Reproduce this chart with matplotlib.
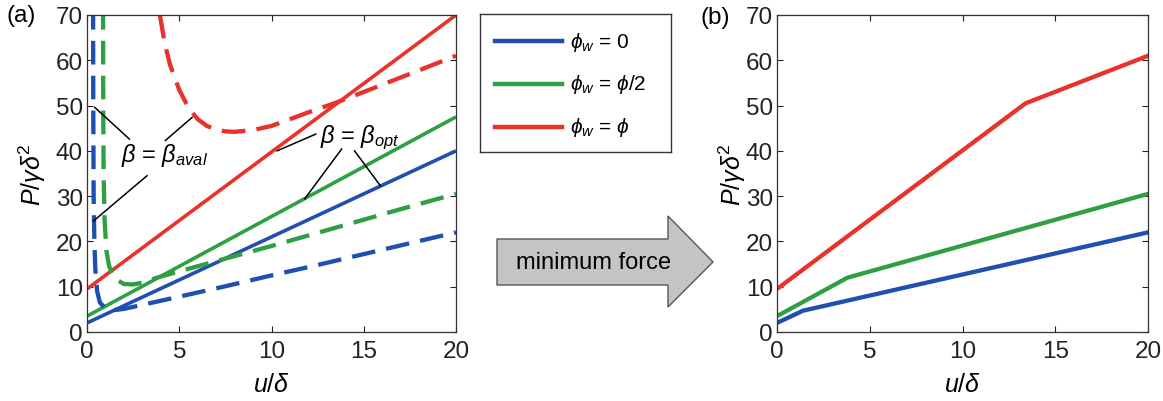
import matplotlib
matplotlib.use("Agg")
import matplotlib.pyplot as plt
from matplotlib.patches import Polygon

plt.rcParams['font.family'] = ['Liberation Sans', 'DejaVu Sans']
plt.rcParams['mathtext.fontset'] = 'custom'
plt.rcParams['mathtext.rm'] = 'Liberation Sans'
plt.rcParams['mathtext.it'] = 'Liberation Sans:italic'
plt.rcParams['mathtext.bf'] = 'Liberation Sans:bold'
plt.rcParams['mathtext.fallback'] = 'stixsans'

# ---------------- data ----------------
series_names = [r'$\phi_w$ = 0', r'$\phi_w$ = $\phi$/2', r'$\phi_w$ = $\phi$']
colors = ['#1f4fb0', '#2ea043', '#e8322a']

# (a) beta = beta_opt (solid)
opt_u = [0, 20]
opt_blue = [2.0, 40.0]
opt_green = [3.5, 47.5]
opt_red = [9.5, 70.0]

# (a) beta = beta_aval (dashed)
aval_blue_u = [0.33, 0.34, 0.36, 0.40, 0.45, 0.55, 0.70, 1.0, 1.4, 2.0, 3.0, 5.0, 7.5, 10.0, 12.5, 15.0, 17.5, 20.0]
aval_blue_p = [72, 50, 30, 20, 14, 9, 6.5, 5.2, 4.8, 5.1, 6.0, 7.8, 10.1, 12.5, 14.8, 17.2, 19.6, 22.0]
aval_green_u = [0.87, 0.88, 0.90, 0.95, 1.05, 1.2, 1.5, 2.0, 2.5, 3.0, 3.8, 5.0, 7.5, 10.0, 12.5, 15.0, 17.5, 20.0]
aval_green_p = [72, 50, 35, 25, 18, 14.5, 11.8, 10.6, 10.5, 10.9, 12.0, 13.4, 16.2, 19.0, 21.9, 24.8, 27.7, 30.5]
aval_red_u = [3.95, 4.2, 4.5, 5.0, 5.5, 6.0, 6.5, 7.0, 7.5, 8.0, 9.0, 10.0, 11.0, 12.0, 13.4, 15.0, 17.5, 20.0]
aval_red_p = [70, 64, 59, 53.5, 49.5, 47, 45.5, 44.7, 44.3, 44.2, 44.6, 45.5, 47.0, 48.5, 50.5, 53.0, 57.0, 61.0]

# (b) minimum force
min_blue_u = [0, 1.4, 20]
min_blue_p = [2.0, 4.7, 22.0]
min_green_u = [0, 3.8, 20]
min_green_p = [3.5, 12.0, 30.5]
min_red_u = [0, 13.4, 20]
min_red_p = [9.5, 50.5, 61.0]

xticks = [0, 5, 10, 15, 20]
yticks = [0, 10, 20, 30, 40, 50, 60, 70]

# ---------------- figure ----------------
W, H = 1163, 402
fig = plt.figure(figsize=(W / 100, H / 100), dpi=100)

def px(x0, y0, x1, y1):
    return [x0 / W, 1 - y1 / H, (x1 - x0) / W, (y1 - y0) / H]

axA = fig.add_axes(px(87, 16, 456, 333))
axB = fig.add_axes(px(777, 16, 1148, 333))

FS = 17.5
LW = 2.6
dash = (0, (5.5, 2.6))

def style(ax, ylab_x):
    ax.set_xlim(0, 20)
    ax.set_ylim(0, 70)
    ax.set_xticks(xticks)
    ax.set_yticks(yticks)
    ax.tick_params(direction='in', length=4, width=0.8, top=True, right=True,
                   labelsize=FS, colors='#222222')
    ax.tick_params(axis='x', pad=6)
    ax.tick_params(axis='y', pad=3)
    for s in ax.spines.values():
        s.set_linewidth(0.9)
        s.set_color('#333333')
    ax.set_xlabel(r'$u/\delta$', fontsize=18)
    ax.set_ylabel(r'$P/\gamma\delta^2$', fontsize=18)
    ax.xaxis.set_label_coords(0.5, -52 / 317, transform=ax.transAxes)
    ax.yaxis.set_label_coords(ylab_x, 0.5, transform=ax.transAxes)
    ax.xaxis.label.set_va('center')
    ax.yaxis.label.set_va('center')

# panel (a)
for p, c in zip([opt_blue, opt_green, opt_red], colors):
    axA.plot(opt_u, p, color=c, lw=LW, solid_capstyle='butt')
for u, p, c in zip([aval_blue_u, aval_green_u, aval_red_u],
                   [aval_blue_p, aval_green_p, aval_red_p], colors):
    axA.plot(u, p, color=c, lw=LW + 0.5, linestyle=dash, clip_on=True)
style(axA, -55 / 369)

# annotations beta = beta_aval
axA.text(4.2, 39.3, r'$\beta$ = $\beta_{aval}$', fontsize=17, ha='center', va='center')
for (x0, y0, x1, y1) in [(0.42, 49.6, 2.3, 42.6), (4.25, 42.3, 5.7, 47.4), (3.25, 34.5, 0.35, 24.5)]:
    axA.plot([x0, x1], [y0, y1], color='black', lw=1.1)

# annotations beta = beta_opt
axA.text(14.8, 43.0, r'$\beta$ = $\beta_{opt}$', fontsize=17, ha='center', va='center')
for (x0, y0, x1, y1) in [(12.4, 43.7, 10.3, 40.0), (13.8, 40.4, 11.8, 29.4), (14.5, 40.0, 15.9, 32.3)]:
    axA.plot([x0, x1], [y0, y1], color='black', lw=1.1)

# panel (b)
for u, p, c in zip([min_blue_u, min_green_u, min_red_u],
                   [min_blue_p, min_green_p, min_red_p], colors):
    axB.plot(u, p, color=c, lw=LW + 0.5, solid_joinstyle='round')
style(axB, -45 / 371)

# panel labels
fig.text(6 / W, 1 - 16 / H, '(a)', fontsize=FS, ha='left', va='center')
fig.text(700 / W, 1 - 18 / H, '(b)', fontsize=FS, ha='left', va='center')

# legend box (drawn manually)
legax = fig.add_axes(px(480, 15, 671, 153))
legax.set_xlim(0, 1)
legax.set_ylim(0, 1)
legax.set_xticks([])
legax.set_yticks([])
for s in legax.spines.values():
    s.set_linewidth(1.0)
    s.set_color('#333333')
rows = [1 - (42 - 15) / 138, 1 - (85 - 15) / 138, 1 - (128 - 15) / 138]
for yy, c, lab in zip(rows, colors, series_names):
    legax.plot([(495 - 480) / 191, (562 - 480) / 191], [yy, yy], color=c, lw=3.2)
    legax.text((570 - 480) / 191, yy, lab, fontsize=15, ha='left', va='center')

# arrow "minimum force"
pts = [(497, 240), (668, 240), (668, 217), (713, 263), (668, 308), (668, 286), (497, 286)]
poly = Polygon([(x / W, 1 - y / H) for x, y in pts], closed=True, transform=fig.transFigure,
               facecolor='#c4c4c4', edgecolor='#555555', lw=1.0)
fig.patches.append(poly)
fig.text(594 / W, 1 - 263 / H, 'minimum force', fontsize=17, ha='center', va='center')

fig.savefig('out.png', dpi=100)
